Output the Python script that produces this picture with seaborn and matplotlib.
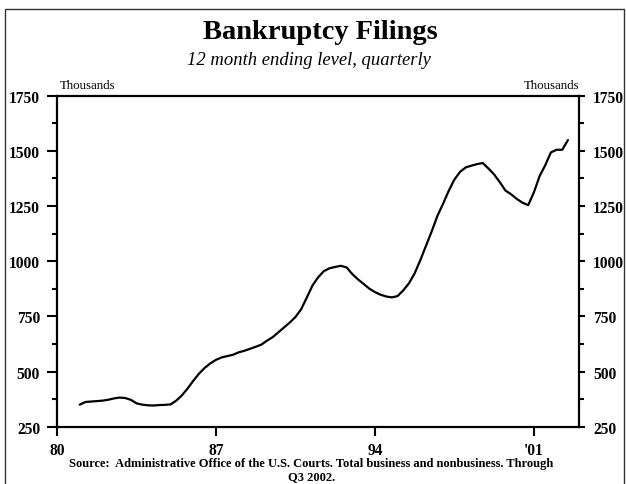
import numpy as np
import pandas as pd
import matplotlib
matplotlib.use("Agg")
import matplotlib.pyplot as plt
import seaborn as sns
from matplotlib.ticker import MultipleLocator, FixedLocator
from matplotlib.patches import Rectangle

# ---- data (quarterly, 12-month ending level, thousands) ----
start_year = 1981.0  # first quarter shown (Q1 1981)
filings = [
    350, 362, 364, 366,          # 1981
    368, 372, 378, 382,          # 1982
    380, 372, 356, 350,          # 1983
    347, 346, 348, 349,          # 1984
    351, 368, 392, 423,          # 1985
    458, 490, 516, 537,          # 1986
    553, 564, 570, 576,          # 1987
    587, 594, 603, 612,          # 1988
    622, 640, 656, 678,          # 1989
    700, 722, 747, 782,          # 1990
    835, 890, 927, 955,          # 1991
    968, 974, 979, 972,          # 1992
    942, 918, 897, 876,          # 1993
    860, 848, 840, 836,          # 1994
    842, 868, 900, 945,          # 1995
    1005, 1070, 1135, 1205,      # 1996
    1260, 1319, 1370, 1405,      # 1997
    1425, 1433, 1440, 1445,      # 1998
    1420, 1393, 1358, 1320,      # 1999
    1303, 1282, 1265, 1254,      # 2000
    1312, 1385, 1435, 1493,      # 2001
    1505, 1505, 1549,            # 2002 (through Q3)
]
x_tick_years = [1980, 1987, 1994, 2001]
x_tick_labels = ["80", "87", "94", "'01"]
y_ticks = [250, 500, 750, 1000, 1250, 1500, 1750]

title = "Bankruptcy Filings"
subtitle = "12 month ending level, quarterly"
unit_label = "Thousands"
source_line1 = "Source:  Administrative Office of the U.S. Courts. Total business and nonbusiness. Through"
source_line2 = "Q3 2002."

df = pd.DataFrame({
    "year": start_year + 0.25 * np.arange(len(filings)),
    "filings": filings,
})

sns.set_theme(style="white")
plt.rcParams["font.family"] = ["Liberation Serif", "DejaVu Serif"]
plt.rcParams["text.color"] = "black"
plt.rcParams["xtick.color"] = "black"
plt.rcParams["ytick.color"] = "black"

W, H = 626, 485
fig = plt.figure(figsize=(W / 100, H / 100), dpi=100)
fig.patch.set_facecolor("white")

ax_l, ax_r, ax_t, ax_b = 57, 579.3, 96.7, 427.7
ax = fig.add_axes([ax_l / W, 1 - ax_b / H, (ax_r - ax_l) / W, (ax_b - ax_t) / H])

sns.lineplot(data=df, x="year", y="filings", ax=ax, color="black", linewidth=1.6)

ax.set_xlim(1980, 2003)
ax.set_ylim(250, 1750)
ax.set_xlabel("")
ax.set_ylabel("")

ax.xaxis.set_major_locator(FixedLocator(x_tick_years))
ax.set_xticklabels(x_tick_labels)
ax.yaxis.set_major_locator(FixedLocator(y_ticks))
ax.yaxis.set_minor_locator(MultipleLocator(125))

for s in ax.spines.values():
    s.set_visible(True)
    s.set_color("black")
    s.set_linewidth(1.6)

# left axis ticks
ax.tick_params(axis="y", which="both", direction="out", left=True, right=False,
               labelleft=True, labelright=False, width=1.5, colors="black")
ax.tick_params(axis="y", which="major", length=7.2, pad=5, labelsize=11.2)
ax.tick_params(axis="y", which="minor", length=3.6)
ax.tick_params(axis="x", which="major", direction="out", bottom=True, top=False,
               length=6.5, width=1.5, pad=4.5, labelsize=11.2, colors="black")

# right axis (same scale) for right-side ticks
ax2 = ax.twinx()
ax2.set_ylim(250, 1750)
ax2.yaxis.set_major_locator(FixedLocator(y_ticks))
ax2.yaxis.set_minor_locator(MultipleLocator(125))
ax2.tick_params(axis="y", which="both", direction="out", right=True, left=False,
                labelright=True, labelleft=False, width=1.5, colors="black")
ax2.tick_params(axis="y", which="major", length=4.3, pad=5.5, labelsize=11.2)
ax2.tick_params(axis="y", which="minor", length=3.6)
ax2.grid(False)
for s in ax2.spines.values():
    s.set_visible(False)

for lbl in ax.get_yticklabels() + ax.get_xticklabels() + ax2.get_yticklabels():
    lbl.set_fontweight("bold")
ax.grid(False)

# titles
fig.text(320 / W, 1 - 39 / H, title, ha="center", va="baseline",
         fontsize=20.5, fontweight="bold")
fig.text(309 / W, 1 - 65 / H, subtitle, ha="center", va="baseline",
         fontsize=13.4, fontstyle="italic")
fig.text(60 / W, 1 - 89 / H, unit_label, ha="left", va="baseline", fontsize=9.3)
fig.text(579 / W, 1 - 89 / H, unit_label, ha="right", va="baseline", fontsize=9.3)

# source
fig.text(311 / W, 1 - 464 / H, source_line1, ha="center", va="center",
         fontsize=9, fontweight="bold")
fig.text(312 / W, 1 - 477.5 / H, source_line2, ha="center", va="center",
         fontsize=9, fontweight="bold")

# frame around the figure
fig.patches.append(Rectangle((5 / W, -0.02), (624 - 5) / W, (H - 10) / H + 0.02,
                             transform=fig.transFigure, fill=False,
                             edgecolor="#333333", linewidth=1.0))

fig.savefig("out.png", dpi=100)
